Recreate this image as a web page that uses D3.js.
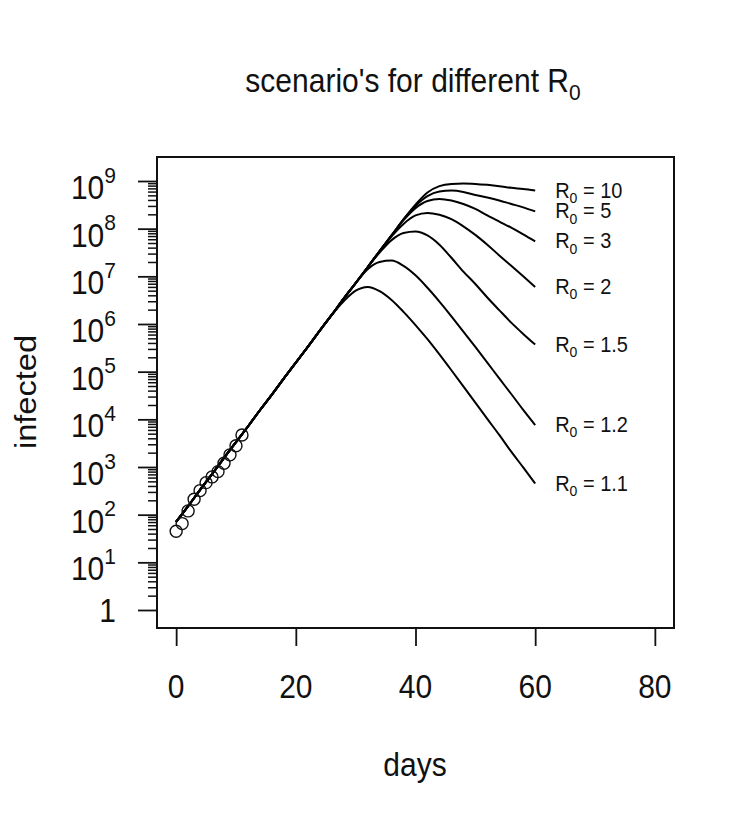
<!DOCTYPE html>
<html>
<head>
<meta charset="utf-8">
<script src="https://cdn.jsdelivr.net/npm/d3@7"></script>
<style>
  html, body { margin: 0; padding: 0; background: #ffffff; }
  svg { display: block; }
  text { font-family: "Liberation Sans", Arial, Helvetica, sans-serif; fill: #111; }
</style>
</head>
<body>
<svg id="chart" width="756" height="822"></svg>
<script>
// ---------------- data ----------------
const growthDays = [0, 2, 4, 6, 8, 10, 12, 14, 16, 18, 20, 22, 24, 26];
const growth = [71, 151, 331, 708, 1550, 3310, 7080, 15500, 33100, 72400, 155000, 331000, 724000, 1.55e6];

const tailDays = [28, 30, 32, 34, 36, 38, 40, 42, 44, 46, 48, 50, 52, 54, 56, 58, 60];
const tailR10  = [3.4e6, 7.2e6, 1.55e7, 3.4e7, 7.2e7, 1.58e8, 3.2e8, 5.75e8, 7.8e8, 8.7e8, 8.9e8, 8.7e8, 8.3e8, 7.8e8, 7.2e8, 6.8e8, 6.3e8];
const tailR5   = [3.4e6, 7.2e6, 1.55e7, 3.4e7, 7.2e7, 1.55e8, 3.0e8, 4.8e8, 6.0e8, 6.3e8, 5.9e8, 5.1e8, 4.5e8, 3.9e8, 3.3e8, 2.8e8, 2.3e8];
const tailR3   = [3.4e6, 7.2e6, 1.55e7, 3.4e7, 7.2e7, 1.51e8, 2.7e8, 3.8e8, 4.2e8, 3.9e8, 3.3e8, 2.6e8, 1.9e8, 1.41e8, 1.05e8, 7.6e7, 5.4e7];
const tailR2   = [3.4e6, 7.2e6, 1.55e7, 3.3e7, 6.9e7, 1.26e8, 1.9e8, 2.14e8, 1.95e8, 1.58e8, 1.12e8, 7.4e7, 4.6e7, 2.75e7, 1.66e7, 1.0e7, 6.0e6];
const tailR15  = [3.4e6, 7.2e6, 1.55e7, 3.16e7, 5.75e7, 8.1e7, 8.7e7, 7.2e7, 4.6e7, 2.45e7, 1.26e7, 6.9e6, 3.6e6, 1.95e6, 1.07e6, 6.2e5, 3.7e5];
const tailR12  = [3.4e6, 7.2e6, 1.41e7, 2.0e7, 2.14e7, 1.66e7, 1.05e7, 5.75e6, 2.95e6, 1.45e6, 6.9e5, 3.3e5, 1.55e5, 7.2e4, 3.4e4, 1.58e4, 7.6e3];
const tailR11  = [3.0e6, 5.0e6, 6.0e6, 4.9e6, 3.2e6, 1.8e6, 9.5e5, 4.8e5, 2.3e5, 1.07e5, 4.9e4, 2.24e4, 1.02e4, 4.7e3, 2.1e3, 980, 450];

const r0Labels = ["10", "5", "3", "2", "1.5", "1.2", "1.1"];
const tails = [tailR10, tailR5, tailR3, tailR2, tailR15, tailR12, tailR11];

const pointDays   = [0, 1, 2, 3, 4, 5, 6, 7, 8, 9, 10, 11];
const pointValues = [45, 65, 120, 210, 320, 470, 620, 800, 1200, 1800, 2800, 4700];

const xTicks = [0, 20, 40, 60, 80];
const yExponents = [0, 1, 2, 3, 4, 5, 6, 7, 8, 9];

const titleText = "scenario's for different R";
const xLabel = "days";
const yLabel = "infected";

// ---------------- layout ----------------
const box = { left: 157, right: 674, top: 157, bottom: 628 };
const stretch = 1.087; // vertical glyph stretch of the picture

const svg = d3.select("#chart");
const x = d3.scaleLinear().domain([-3.2, 83.2]).range([box.left, box.right]);
const y = d3.scaleLog().domain([1, 1e9]).range([610, 181]);

const allDays = growthDays.concat(tailDays);
const series = r0Labels.map((lab, i) => ({
  label: lab,
  values: allDays.map((d, j) => ({ day: d, v: j < growth.length ? growth[j] : tails[i][j - growth.length] }))
}));

// frame
svg.append("rect")
  .attr("x", box.left).attr("y", box.top)
  .attr("width", box.right - box.left).attr("height", box.bottom - box.top)
  .attr("fill", "none").attr("stroke", "#111").attr("stroke-width", 2);

// x axis
const xAxis = d3.axisBottom(x).tickValues(xTicks).tickSize(18).tickFormat("");
const gx = svg.append("g").attr("transform", `translate(0,${box.bottom})`).call(xAxis);
gx.select(".domain").remove();
gx.selectAll(".tick line").attr("stroke", "#111").attr("stroke-width", 1.8);
xTicks.forEach(t => {
  svg.append("g")
    .attr("transform", `translate(${x(t)},698) scale(1,${stretch})`)
    .append("text").attr("text-anchor", "middle").attr("font-size", 30).text(t);
});

// y axis: major ticks
const yMajor = yExponents.map(e => Math.pow(10, e));
const yAxisMajor = d3.axisLeft(y).tickValues(yMajor).tickSize(19).tickFormat("");
const gy = svg.append("g").attr("transform", `translate(${box.left},0)`).call(yAxisMajor);
gy.select(".domain").remove();
gy.selectAll(".tick line").attr("stroke", "#111").attr("stroke-width", 1.8);

// y axis: minor ticks
const yMinor = [];
yExponents.slice(0, -1).forEach(e => { for (let m = 2; m <= 9; m++) yMinor.push(m * Math.pow(10, e)); });
const yAxisMinor = d3.axisLeft(y).tickValues(yMinor).tickSize(9).tickFormat("");
const gy2 = svg.append("g").attr("transform", `translate(${box.left},0)`).call(yAxisMinor);
gy2.select(".domain").remove();
gy2.selectAll(".tick line").attr("stroke", "#111").attr("stroke-width", 1.5);

// y tick labels
yExponents.forEach(e => {
  const ty = y(Math.pow(10, e));
  if (e === 0) {
    svg.append("g").attr("transform", `translate(116,${ty + 12}) scale(1,${stretch})`)
      .append("text").attr("text-anchor", "end").attr("font-size", 30).text("1");
  } else {
    const t = svg.append("g").attr("transform", `translate(116,${ty + 18}) scale(1,${stretch})`)
      .append("text").attr("text-anchor", "end").attr("font-size", 30);
    t.append("tspan").text("10");
    t.append("tspan").attr("font-size", 21).attr("dy", -15).text(e);
  }
});

// lines
const line = d3.line().x(d => x(d.day)).y(d => y(d.v)).curve(d3.curveMonotoneX);
svg.append("g").selectAll("path").data(series).join("path")
  .attr("d", d => line(d.values))
  .attr("fill", "none").attr("stroke", "#000").attr("stroke-width", 2)
  .attr("stroke-linejoin", "round");

// observed points
svg.append("g").selectAll("circle").data(pointDays).join("circle")
  .attr("cx", (d) => x(d)).attr("cy", (d, i) => y(pointValues[i]))
  .attr("r", 6).attr("fill", "none").attr("stroke", "#111").attr("stroke-width", 1.4);

// series labels
series.forEach(s => {
  const last = s.values[s.values.length - 1];
  const t = svg.append("g")
    .attr("transform", `translate(${x(last.day) + 20},${y(last.v) + 7}) scale(1,${stretch})`)
    .append("text").attr("font-size", 20);
  t.append("tspan").text("R");
  t.append("tspan").attr("font-size", 14).attr("dy", 5).text("0");
  t.append("tspan").attr("dy", -5).text(" = " + s.label);
});

// title
const tt = svg.append("g").attr("transform", `translate(413,92) scale(1,${stretch})`)
  .append("text").attr("text-anchor", "middle").attr("font-size", 30);
tt.append("tspan").text(titleText);
tt.append("tspan").attr("font-size", 21).attr("dy", 7.5).text("0");

// axis titles
svg.append("g").attr("transform", `translate(415,776) scale(1,${stretch})`)
  .append("text").attr("text-anchor", "middle").attr("font-size", 30).text(xLabel);
svg.append("g").attr("transform", `translate(36,392) scale(1,${stretch}) rotate(-90)`)
  .append("text").attr("text-anchor", "middle").attr("font-size", 30).text(yLabel);
</script>
</body>
</html>
